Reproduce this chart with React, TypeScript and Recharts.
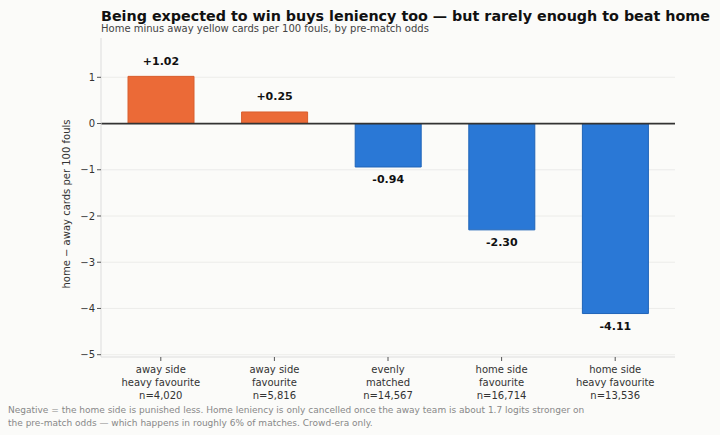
import { BarChart, Bar, XAxis, YAxis, CartesianGrid, ReferenceLine, Cell, LabelList } from 'recharts';

const groupLines = [
    ['away side', 'heavy favourite'],
    ['away side', 'favourite'],
    ['evenly', 'matched'],
    ['home side', 'favourite'],
    ['home side', 'heavy favourite'],
];
const sampleSizes = ['n=4,020', 'n=5,816', 'n=14,567', 'n=16,714', 'n=13,536'];
const gaps = [1.02, 0.25, -0.94, -2.3, -4.11];
const yTicks = [-5, -4, -3, -2, -1, 0, 1];

const data = gaps.map((gap, i) => ({
    key: `g${i}`,
    lines: groupLines[i],
    n: sampleSizes[i],
    gap,
}));

const FONT = '"DejaVu Sans", sans-serif';
const ORANGE = '#eb6a37';
const BLUE = '#2a78d6';

const fmtNum = (v: number) => (v < 0 ? `\u2212${Math.abs(v)}` : `${v}`);

function GroupTick({ x, y, payload }: any) {
    const row = data.find((d) => d.key === payload.value);
    if (!row) return null;
    const lines = [...row.lines, row.n];
    return (
        <text x={x} y={y} textAnchor="middle" fontFamily={FONT} fontSize={10} fill="#333">
            {lines.map((ln, i) => (
                <tspan key={i} x={x} dy={i === 0 ? 10 : 12.8}>
                    {ln}
                </tspan>
            ))}
        </text>
    );
}

function ValueLabel({ x, y, width, height, value }: any) {
    const top = Math.min(y, y + height);
    const bottom = Math.max(y, y + height);
    const pos = value >= 0;
    const txt = pos ? `+${value.toFixed(2)}` : value.toFixed(2);
    return (
        <text
            x={x + width / 2}
            y={pos ? top - 15 : bottom + 13}
            textAnchor="middle"
            dominantBaseline="central"
            fontFamily={FONT}
            fontSize={11}
            fontWeight="bold"
            fill="#111"
        >
            {txt}
        </text>
    );
}

export default function App() {
    return (
        <div style={{ position: 'absolute', left: 0, top: 0, width: 720, height: 435, background: '#fbfbf9', fontFamily: FONT }}>
            <div style={{ position: 'absolute', left: 101, top: 9, fontSize: 14.3, lineHeight: '14px', fontWeight: 'bold', color: '#111', whiteSpace: 'nowrap' }}>
                Being expected to win buys leniency too — but rarely enough to beat home
            </div>
            <div style={{ position: 'absolute', left: 101, top: 23, fontSize: 10, lineHeight: '11px', color: '#444', whiteSpace: 'nowrap' }}>
                Home minus away yellow cards per 100 fouls, by pre-match odds
            </div>
            <div
                style={{
                    position: 'absolute',
                    left: 67,
                    top: 204,
                    fontSize: 10,
                    lineHeight: '12px',
                    color: '#333',
                    whiteSpace: 'nowrap',
                    transform: 'translate(-50%, -50%) rotate(-90deg)',
                }}
            >
                home − away cards per 100 fouls
            </div>
            <BarChart
                width={720}
                height={435}
                data={data}
                margin={{ top: 38, right: 45, bottom: 48, left: 0 }}
                barSize={66}
                style={{ position: 'absolute', left: 0, top: 0 }}
            >
                <CartesianGrid vertical={false} syncWithTicks stroke="#e8e8e6" strokeWidth={0.8} />
                <XAxis
                    dataKey="key"
                    height={30}
                    padding={{ left: 3, right: 3 }}
                    tick={<GroupTick />}
                    tickLine={{ stroke: '#555' }}
                    tickSize={4}
                    axisLine={{ stroke: '#dddddd' }}
                    interval={0}
                />
                <YAxis
                    width={101}
                    domain={[-5.05, 1.85]}
                    ticks={yTicks}
                    tickFormatter={fmtNum}
                    tick={{ fontSize: 10, fill: '#333', fontFamily: FONT }}
                    tickLine={{ stroke: '#555' }}
                    tickSize={4}
                    axisLine={{ stroke: '#dddddd' }}
                />
                <ReferenceLine y={0} stroke="#333" strokeWidth={1.8} />
                <Bar dataKey="gap" isAnimationActive={false} strokeWidth={1}>
                    {data.map((d) => (
                        <Cell key={d.key} fill={d.gap >= 0 ? ORANGE : BLUE} stroke={d.gap >= 0 ? '#d95e2e' : '#1f64b8'} />
                    ))}
                    <LabelList dataKey="gap" content={<ValueLabel />} />
                </Bar>
            </BarChart>
            <div style={{ position: 'absolute', left: 8, top: 404, fontSize: 9, color: '#888', lineHeight: '13px', width: 620 }}>
                Negative = the home side is punished less. Home leniency is only cancelled once the away team is about 1.7 logits stronger on
                <br />
                the pre-match odds — which happens in roughly 6% of matches. Crowd-era only.
            </div>
        </div>
    );
}
